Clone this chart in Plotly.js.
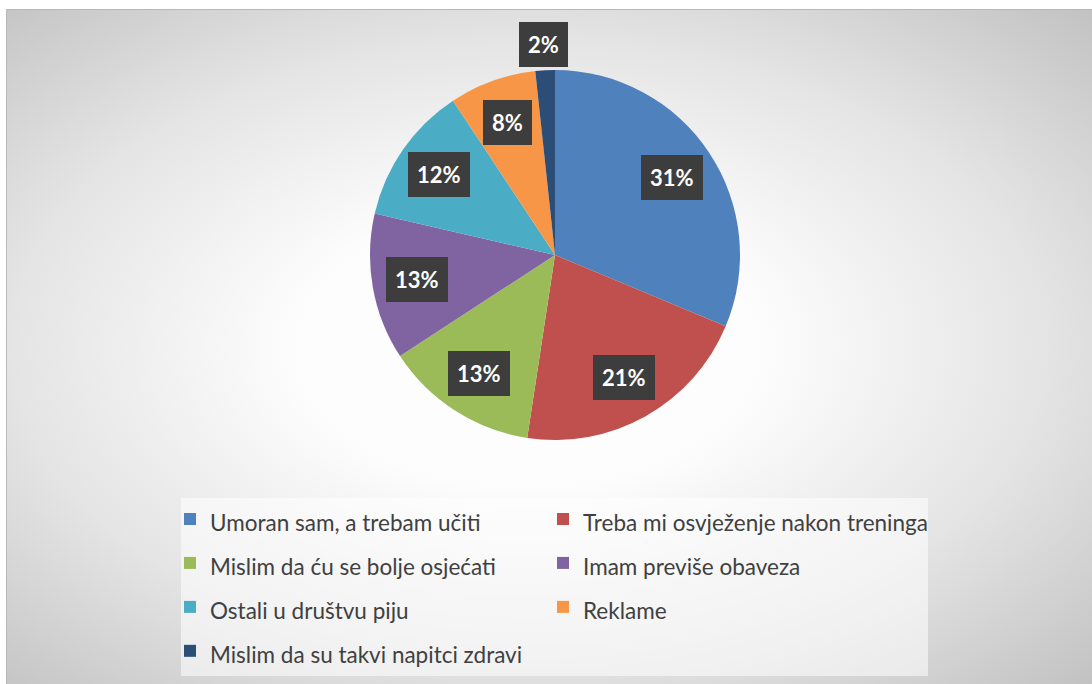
<!DOCTYPE html>
<html><head><meta charset="utf-8">
<script src="https://cdn.plot.ly/plotly-3.0.1.min.js"></script>
<style>
html,body{margin:0;padding:0;background:#fff;width:1092px;height:684px;overflow:hidden;}
#frame{position:absolute;left:6px;top:9px;width:1086px;height:675px;border-left:1px solid #b8b8b8;border-top:1px solid #b8b8b8;box-sizing:border-box;
background:radial-gradient(ellipse farthest-corner at 48% 50%, #ffffff 0%, #fcfcfc 30%, #e4e4e4 65%, #c2c2c2 100%);}
#chart{position:absolute;left:0;top:0;width:1092px;height:684px;}
</style></head>
<body>
<div id="frame"></div>
<div id="chart"></div>
<script>
const labels = [
  "Umoran sam, a trebam učiti",
  "Treba mi osvježenje nakon treninga",
  "Mislim da ću se bolje osjećati",
  "Imam previše obaveza",
  "Ostali u društvu piju",
  "Reklame",
  "Mislim da su takvi napitci zdravi"
];
const values = [31.3, 21.1, 13.4, 12.8, 12.1, 7.6, 1.7];
const colors = ["#4f81bd", "#c0504d", "#9bbb59", "#8064a2", "#4bacc6", "#f79646", "#2c4d75"];

const W = 1092, H = 684;
const CX = 555, CY = 255, R = 185;

const total = values.reduce((a, b) => a + b, 0);
const annotations = [];
let cum = 0;
values.forEach((v, i) => {
  const frac = v / total;
  const mid = (cum + frac / 2) * 2 * Math.PI;
  cum += frac;
  const rr = frac < 0.03 ? 1.14 * R : 0.76 * R;
  const px = CX + rr * Math.sin(mid);
  const py = CY - rr * Math.cos(mid);
  annotations.push({
    x: px / W, y: 1 - py / H, xref: "paper", yref: "paper",
    xanchor: "center", yanchor: "middle", showarrow: false,
    text: "<b>" + Math.round(frac * 100) + "%</b>",
    font: {family: "Lato, 'Open Sans', sans-serif", size: 22, color: "#ffffff"},
    bgcolor: "#3d3d3d", borderpad: 9, borderwidth: 0
  });
});

const trace = {
  type: "pie",
  labels: labels.map(s => '<span style="font-size:22.5px">' + s + '</span>'),
  values: values,
  sort: false,
  direction: "clockwise",
  rotation: 0,
  textinfo: "none",
  hoverinfo: "percent",
  marker: {colors: colors, line: {width: 0}},
  domain: {x: [(CX - R) / W, (CX + R) / W], y: [1 - (CY + R) / H, 1 - (CY - R) / H]}
};

const layout = {
  width: W, height: H,
  margin: {l: 0, r: 0, t: 0, b: 0},
  paper_bgcolor: "rgba(0,0,0,0)",
  plot_bgcolor: "rgba(0,0,0,0)",
  showlegend: true,
  legend: {
    orientation: "h",
    x: 170 / W, xanchor: "left",
    y: 1 - 492 / H, yanchor: "top",
    entrywidth: 328, entrywidthmode: "pixels",
    bgcolor: "rgba(0,0,0,0)",
    borderwidth: 0,
    font: {family: "Lato, 'Open Sans', sans-serif", size: 31.5, color: "#404040"},
    traceorder: "normal"
  },
  shapes: [{
    type: "rect", xref: "paper", yref: "paper", layer: "below",
    x0: 181 / W, x1: 928 / W, y0: 1 - 676 / H, y1: 1 - 498 / H,
    fillcolor: "rgba(255,255,255,0.55)", line: {width: 0}
  }],
  annotations: annotations
};

Plotly.newPlot("chart", [trace], layout, {displayModeBar: false, staticPlot: true}).then(gd => {
  gd.querySelectorAll(".legend .scrollbox, .legend").forEach(el => el.removeAttribute("clip-path"));
});
</script>
</body></html>
